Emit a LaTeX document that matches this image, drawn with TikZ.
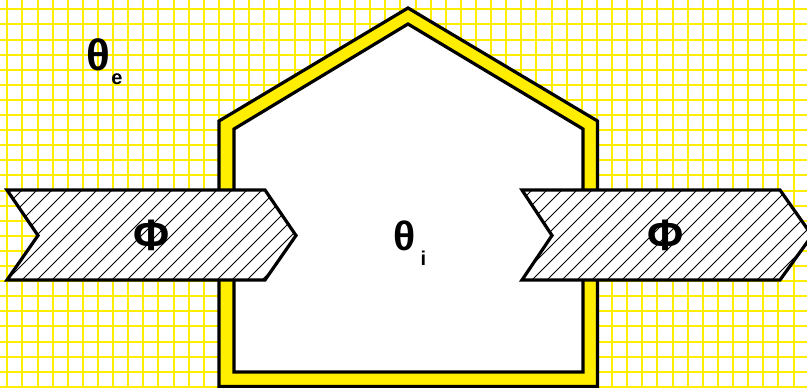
\documentclass[tikz,border=0pt]{standalone}
\usepackage{fontspec}
\setmainfont{Liberation Sans}
\definecolor{wallyellow}{RGB}{255,238,0}
\definecolor{gridyellow}{RGB}{255,238,0}
\begin{document}
\begin{tikzpicture}[x=1pt,y=-1pt,
  gridline/.style={draw=gridyellow,line width=2pt},
  outline/.style={draw=black,line width=3.2pt,line join=miter},
  hatchline/.style={draw=black,line width=0.8pt},
  lbl/.style={font=\bfseries\fontsize{44}{44}\selectfont,inner sep=0pt},
  lbli/.style={font=\bfseries\fontsize{41}{41}\selectfont,inner sep=0pt},
  sublbl/.style={font=\bfseries\fontsize{20}{20}\selectfont,inner sep=0pt}]
\useasboundingbox (0,0) rectangle (807,388);
\fill[white] (0,0) rectangle (807,388);
% grid
\foreach \i in {0,...,53} \draw[gridline] ({round(7.3+15.12*\i)},0) -- ++(0,388);
\foreach \j in {0,...,25} \draw[gridline] (0,{round(9.3+15.1*\j)}) -- ++(807,0);
% house wall
\filldraw[outline,fill=wallyellow] (219,386.5) -- (219,121) -- (408,8) -- (597.5,121) -- (597.5,386.5) -- cycle;
\filldraw[outline,fill=white] (234,372) -- (234,129) -- (408,24) -- (583,129) -- (583,372) -- cycle;
% left flux arrow
\fill[white] (7,190) -- (265,190) -- (296,235.5) -- (265,280) -- (7,280) -- (38,235.5) -- cycle;
\begin{scope}
  \clip (7,190) -- (265,190) -- (296,235.5) -- (265,280) -- (7,280) -- (38,235.5) -- cycle;
  \foreach \k in {-3,...,26} \draw[hatchline] ({212+15*\k-180},180) -- ({212+15*\k-290},290);
\end{scope}
\draw[outline] (7,190) -- (265,190) -- (296,235.5) -- (265,280) -- (7,280) -- (38,235.5) -- cycle;
% right flux arrow
\fill[white] (522,190) -- (780,190) -- (812,235.5) -- (780,280) -- (522,280) -- (552,235.5) -- cycle;
\begin{scope}
  \clip (522,190) -- (780,190) -- (812,235.5) -- (780,280) -- (522,280) -- (552,235.5) -- cycle;
  \foreach \k in {31,...,61} \draw[hatchline] ({212+15*\k-180},180) -- ({212+15*\k-290},290);
\end{scope}
\draw[outline] (522,190) -- (780,190) -- (812,235.5) -- (780,280) -- (522,280) -- (552,235.5) -- cycle;
% labels
\node[lbl] (thetae) at (98,55) {θ};
\node[sublbl] (sube) at (117,79.5) {e};
\node[lbli] (thetai) at (404.5,235.7) {θ};
\node[sublbl] (subi) at (423.5,258) {i};
\node[lbl] (phil) at (151.5,235) {Φ};
\node[lbl] (phir) at (666,235) {Φ};
\end{tikzpicture}
\end{document}
